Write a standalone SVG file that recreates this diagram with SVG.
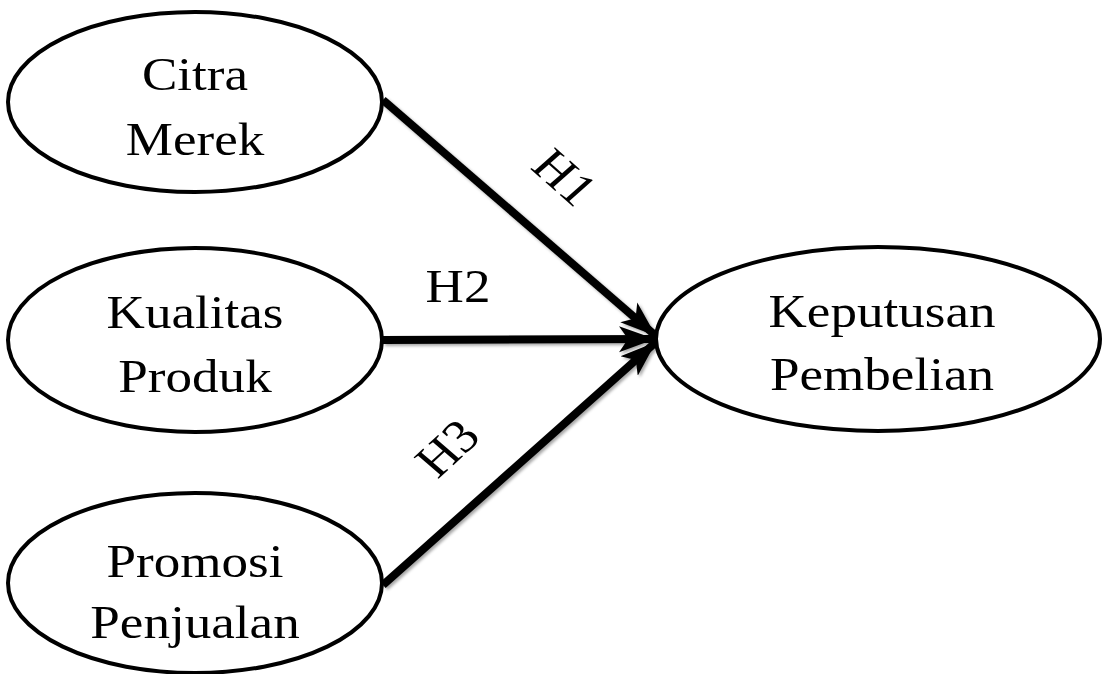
<svg xmlns="http://www.w3.org/2000/svg" width="1102" height="674" viewBox="0 0 1102 674">
<style>
.node{fill:#fff;stroke:#000;stroke-width:4}
.t{font-family:"Liberation Serif","Times New Roman",serif;font-size:47px;fill:#000;text-anchor:middle}
.edge{stroke:#000;stroke-width:8;fill:none;marker-end:url(#ah)}
</style>
<defs>
<marker id="ah" markerUnits="userSpaceOnUse" markerWidth="40" markerHeight="32" viewBox="0 0 40 32" refX="36" refY="16" orient="auto">
<path d="M0,3 L36,16 L0,29 L9,16 Z" fill="#000"/>
</marker>
<filter id="sh" x="-10%" y="-10%" width="120%" height="120%">
<feDropShadow dx="2" dy="2" stdDeviation="1.5" flood-color="#000" flood-opacity="0.35"/>
</filter>
</defs>
<g id="connectors" filter="url(#sh)">
<line class="edge" x1="383" y1="100" x2="656" y2="336"/>
<line class="edge" x1="383" y1="340" x2="655" y2="339"/>
<line class="edge" x1="383" y1="585" x2="656" y2="342"/>
</g>
<g id="labels">
<text class="t" transform="translate(565,177) scale(1.13,1) rotate(45)" dy="16">H1</text>
<text class="t" transform="translate(458,302) scale(1.13,1)">H2</text>
<text class="t" transform="translate(447,448) scale(1.13,1) rotate(-46)" dy="16">H3</text>
</g>
<g id="citra">
<ellipse class="node" cx="195" cy="102" rx="187" ry="90"/>
<text class="t" transform="translate(195,90) scale(1.13,1)">Citra</text>
<text class="t" transform="translate(195,155) scale(1.13,1)">Merek</text>
</g>
<g id="kualitas">
<ellipse class="node" cx="195" cy="340" rx="187" ry="92"/>
<text class="t" transform="translate(195,328) scale(1.13,1)">Kualitas</text>
<text class="t" transform="translate(195,392) scale(1.13,1)">Produk</text>
</g>
<g id="promosi">
<ellipse class="node" cx="195" cy="583" rx="187" ry="90"/>
<text class="t" transform="translate(195,577) scale(1.13,1)">Promosi</text>
<text class="t" transform="translate(195,638) scale(1.13,1)">Penjualan</text>
</g>
<g id="keputusan">
<ellipse class="node" cx="878" cy="339" rx="222" ry="92"/>
<text class="t" transform="translate(882,327) scale(1.13,1)">Keputusan</text>
<text class="t" transform="translate(882,390) scale(1.13,1)">Pembelian</text>
</g>
</svg>
